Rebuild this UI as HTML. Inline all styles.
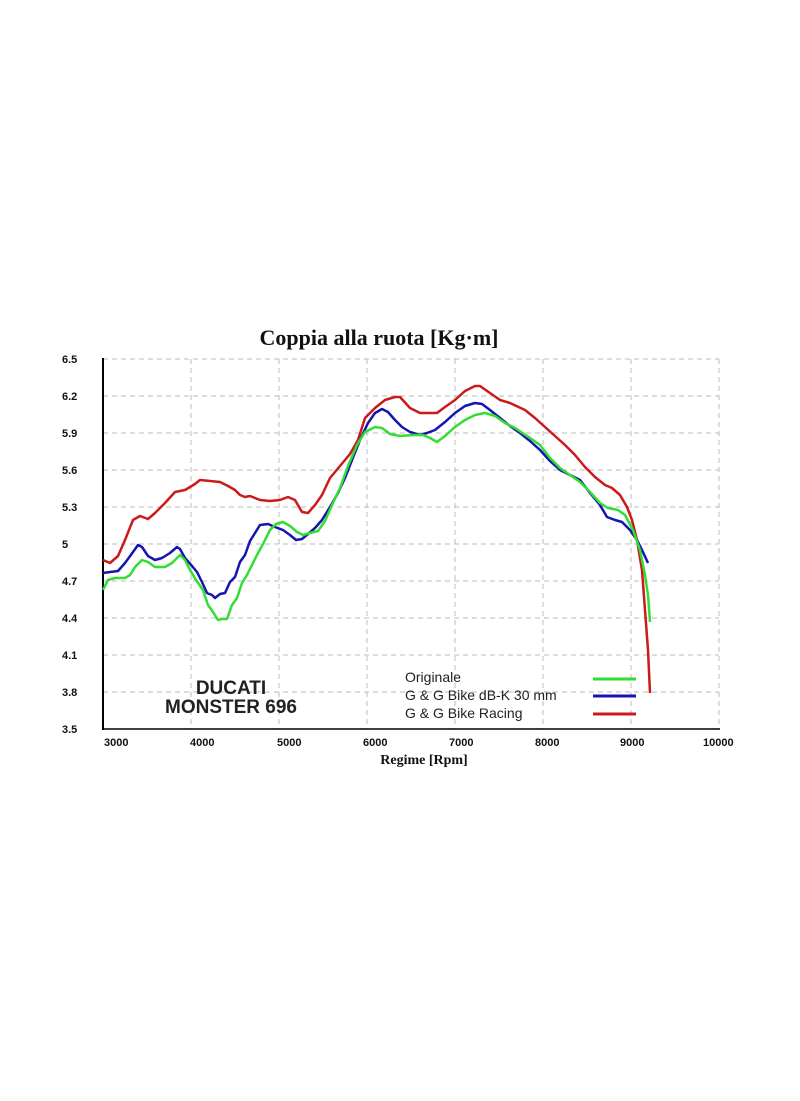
<!DOCTYPE html>
<html><head><meta charset="utf-8"><style>
html,body{margin:0;padding:0;background:#fff;}
</style></head><body>
<svg width="800" height="1096" viewBox="0 0 800 1096" xmlns="http://www.w3.org/2000/svg">
<rect width="800" height="1096" fill="#fff"/>
<text x="379" y="345" text-anchor="middle" font-family="Liberation Serif, serif" font-weight="bold" font-size="22" fill="#111">Coppia alla ruota [Kg·m]</text>
<g stroke="#bbb" stroke-width="1" stroke-dasharray="5,4" fill="none">
<line x1="103" y1="359" x2="719" y2="359"/><line x1="103" y1="396" x2="719" y2="396"/>
<line x1="103" y1="433" x2="719" y2="433"/><line x1="103" y1="470" x2="719" y2="470"/>
<line x1="103" y1="507" x2="719" y2="507"/><line x1="103" y1="544" x2="719" y2="544"/>
<line x1="103" y1="581" x2="719" y2="581"/><line x1="103" y1="618" x2="719" y2="618"/>
<line x1="103" y1="655" x2="719" y2="655"/><line x1="103" y1="692" x2="719" y2="692"/>
<line x1="191" y1="359" x2="191" y2="729"/><line x1="279" y1="359" x2="279" y2="729"/>
<line x1="367" y1="359" x2="367" y2="729"/><line x1="455" y1="359" x2="455" y2="729"/>
<line x1="543" y1="359" x2="543" y2="729"/><line x1="631" y1="359" x2="631" y2="729"/>
<line x1="719" y1="359" x2="719" y2="729"/>
</g>
<line x1="103" y1="358" x2="103" y2="730" stroke="#000" stroke-width="2"/>
<line x1="103" y1="729" x2="720" y2="729" stroke="#000" stroke-width="1.5"/>
<g font-family="Liberation Sans, sans-serif" font-weight="bold" font-size="11" fill="#111">
<text x="62" y="363">6.5</text><text x="62" y="400">6.2</text><text x="62" y="437">5.9</text>
<text x="62" y="474">5.6</text><text x="62" y="511">5.3</text><text x="62" y="548">5</text>
<text x="62" y="585">4.7</text><text x="62" y="622">4.4</text><text x="62" y="659">4.1</text>
<text x="62" y="696">3.8</text><text x="62" y="733">3.5</text>
<text x="104" y="746">3000</text><text x="190" y="746">4000</text><text x="277" y="746">5000</text>
<text x="363" y="746">6000</text><text x="449" y="746">7000</text><text x="535" y="746">8000</text>
<text x="620" y="746">9000</text><text x="703" y="746">10000</text>
</g>
<text x="424" y="764" text-anchor="middle" font-family="Liberation Serif, serif" font-weight="bold" font-size="14" fill="#111">Regime [Rpm]</text>
<g fill="none" stroke-width="2.5" stroke-linejoin="round">
<polyline stroke="#cc1a1a" points="103,560 110,563 118,556 125,540 133,520 140,516 148,519 155,513 165,503 175,492 185,490 195,484 200,480 210,481 220,482 228,486 235,490 240,495 245,497 250,496 255,498 260,500 270,501 280,500 288,497 295,500 302,512 308,513 315,505 322,495 330,478 340,466 350,454 358,440 365,418 375,408 385,400 395,397 400,397 410,408 420,413 437,413 445,407 455,400 465,391 475,386 480,386 490,393 500,400 510,403 525,410 535,418 545,427 555,436 565,445 575,455 585,467 595,477 605,485 612,488 620,495 627,507 632,520 637,540 642,570 645,610 648,650 650,693"/>
<polyline stroke="#1515b0" points="103,573 110,572 118,571 125,563 133,552 138,545 142,547 148,556 155,560 162,558 170,553 177,547 180,549 185,558 192,566 197,572 202,582 207,593 212,595 215,598 220,594 225,593 230,582 235,577 240,562 245,555 250,541 255,533 260,525 268,524 275,527 283,530 290,535 296,540 302,539 308,534 315,528 322,520 330,507 338,493 345,478 352,460 360,440 368,423 375,413 382,409 388,412 395,420 402,427 410,432 420,435 427,433 435,430 445,422 455,413 465,406 475,403 482,404 490,410 500,418 510,426 520,433 530,441 540,450 550,461 560,470 570,475 580,480 590,493 600,505 607,517 615,520 622,522 630,530 637,540 642,550 648,563"/>
<polyline stroke="#33dd33" points="103,590 108,580 115,578 125,578 130,575 135,567 142,560 148,562 155,567 165,567 172,563 180,555 185,560 190,570 196,580 203,590 208,605 213,612 218,620 222,619 227,619 232,605 237,598 242,583 247,575 252,565 257,555 263,544 270,530 276,524 283,522 290,526 297,532 303,535 310,533 318,531 325,521 332,505 340,488 348,466 357,445 365,432 375,427 382,428 390,434 400,436 413,435 423,435 430,438 437,442 445,436 455,427 465,420 475,415 485,413 495,416 505,423 515,428 530,438 540,445 550,458 560,468 570,475 580,482 590,492 600,503 608,508 618,510 625,515 633,530 640,550 645,575 648,595 650,622"/>
</g>
<g font-family="Liberation Sans, sans-serif" font-size="14" fill="#222">
<text x="405" y="682">Originale</text>
<text x="405" y="700">G &amp; G Bike dB-K 30 mm</text>
<text x="405" y="718">G &amp; G Bike Racing</text>
</g>
<line x1="593" y1="679" x2="636" y2="679" stroke="#33dd33" stroke-width="3"/>
<line x1="593" y1="696" x2="636" y2="696" stroke="#1515b0" stroke-width="3"/>
<line x1="593" y1="714" x2="636" y2="714" stroke="#cc1a1a" stroke-width="3"/>
<g font-family="Liberation Sans, sans-serif" font-weight="bold" font-size="19" fill="#222" text-anchor="middle">
<text x="231" y="694">DUCATI</text>
<text x="231" y="713">MONSTER 696</text>
</g>
</svg>
</body></html>
